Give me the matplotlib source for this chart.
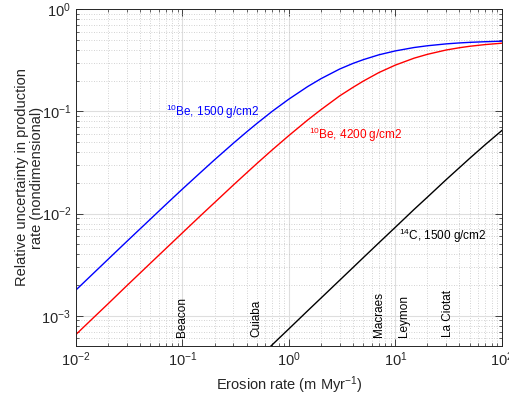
import numpy as np
import matplotlib
matplotlib.use("Agg")
import matplotlib.pyplot as plt
import matplotlib.transforms as mtransforms

plt.rcParams['font.family'] = ['Liberation Sans', 'DejaVu Sans']
plt.rcParams['mathtext.fontset'] = 'custom'
plt.rcParams['mathtext.rm'] = 'Liberation Sans'
plt.rcParams['mathtext.it'] = 'Liberation Sans:italic'
plt.rcParams['mathtext.bf'] = 'Liberation Sans:bold'

# erosion rate (m/Myr)
erosion = [0.01, 0.015, 0.02, 0.03, 0.04, 0.05, 0.07, 0.1, 0.15, 0.2, 0.3, 0.4, 0.5, 0.7,
           1, 1.5, 2, 3, 4, 5, 7, 10, 15, 20, 30, 40, 50, 70, 100]

# relative uncertainty in production rate
be10_1500 = [0.00179, 0.00268, 0.00357, 0.00534, 0.00709, 0.00883, 0.0123, 0.0174, 0.0256,
             0.0336, 0.0487, 0.0629, 0.0762, 0.1006, 0.132, 0.175, 0.209, 0.260, 0.295,
             0.321, 0.358, 0.391, 0.422, 0.439, 0.458, 0.468, 0.474, 0.481, 0.487]
be10_4200 = [0.000657, 0.000985, 0.00131, 0.00197, 0.00262, 0.00327, 0.00456, 0.00649,
             0.00968, 0.0128, 0.0190, 0.0250, 0.0309, 0.0422, 0.0581, 0.0824, 0.104, 0.142,
             0.172, 0.198, 0.240, 0.284, 0.332, 0.362, 0.399, 0.420, 0.434, 0.451, 0.465]

erosion_c14 = [0.5, 0.7, 1, 1.5, 2, 3, 4, 5, 7, 10, 15, 20, 30, 40, 50, 70, 100]
c14_1500 = [0.000373, 0.000523, 0.000746, 0.00112, 0.00149, 0.00223, 0.00297, 0.00371,
            0.00518, 0.00736, 0.0110, 0.0145, 0.0215, 0.0282, 0.0348, 0.0474, 0.0650]

# sites and their erosion rates
sites = ['Beacon', 'Cuiaba', 'Macraes', 'Leymon', 'La Ciotat']
site_rates = [0.1, 0.5, 7.0, 12.0, 31.0]

fig = plt.figure(figsize=(5.10, 3.94), dpi=100)
ax = fig.add_axes([0.149, 0.1226, 0.835, 0.854])

ax.loglog(erosion, be10_1500, color='#0000ff', lw=1.0)
ax.loglog(erosion, be10_4200, color='#ff0000', lw=1.0)
ax.loglog(erosion_c14, c14_1500, color='k', lw=1.0)

ax.set_xlim(1e-2, 1e2)
ax.set_ylim(5.1e-4, 1)

ax.text(0.0705, 0.1, '$^{10}$Be, 1500 g/cm2', color='#0000ff', fontsize=8.5,
        ha='left', va='center')
ax.text(1.55, 0.0595, '$^{10}$Be, 4200 g/cm2', color='#ff0000', fontsize=8.5,
        ha='left', va='center')
ax.text(10.9, 0.006, '$^{14}$C, 1500 g/cm2', color='k', fontsize=8.5,
        ha='left', va='center')

trans = mtransforms.blended_transform_factory(ax.transData, ax.transAxes)
for name, r in zip(sites, site_rates):
    ax.text(r, 0.025, name, rotation=90, fontsize=8.5, ha='center', va='bottom',
            transform=trans)

ax.grid(True, which='major', color='#dedede', lw=0.8, ls='-')
ax.grid(True, which='minor', color='#c4c4c4', lw=0.6, ls=(0, (1, 2)))
ax.set_axisbelow(True)

ax.tick_params(which='both', direction='in', top=True, right=True, colors='#262626',
               labelsize=10.5)
ax.tick_params(which='major', length=5, width=0.6)
ax.tick_params(which='minor', length=2.5, width=0.5)
for s in ax.spines.values():
    s.set_color('#262626')
    s.set_linewidth(0.7)

ax.set_xlabel('Erosion rate (m Myr$^{-1}$)', fontsize=10.5, color='#262626')
ax.set_ylabel('Relative uncertainty in production\nrate (nondimensional)',
              fontsize=10.5, color='#262626', linespacing=1.1)
ax.yaxis.set_label_coords(-0.075, 0.5)

fig.savefig('out.png', dpi=100)
